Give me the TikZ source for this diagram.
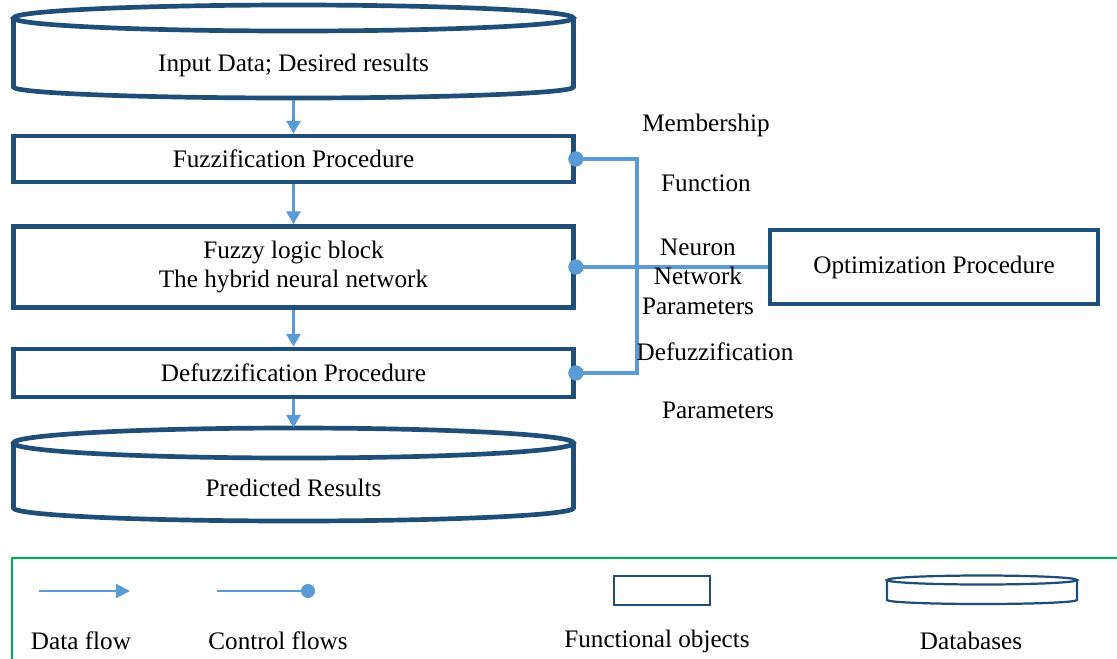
\documentclass[tikz,border=0pt]{standalone}
\usepackage{fontspec}
\setmainfont{Liberation Serif}
\usepackage{tikz}
\usetikzlibrary{calc,arrows.meta}
\definecolor{deepblue}{HTML}{1F4E79}
\definecolor{flowblue}{HTML}{5B9BD5}
\definecolor{keygreen}{HTML}{00B050}
\tikzset{
  txt/.style={font=\fontsize{21.5}{24}\selectfont},
  procbox/.style={txt, draw=deepblue, line width=4pt, minimum width=16.8cm, align=center},
  optbox/.style={procbox, minimum width=9.84cm, minimum height=2.22cm},
  dbnode/.style={txt, minimum width=16.8cm},
  dbline/.style={draw=deepblue, line width=4pt},
  dataflow/.style={draw=flowblue, line width=2.7pt, -{Triangle[length=11pt,width=12pt]}},
  ctrlflow/.style={draw=flowblue, line width=2.7pt},
  lab/.style={txt},
  keyline/.style={draw=flowblue, line width=1.9pt},
  keybox/.style={draw=deepblue, line width=1.9pt, minimum width=2.88cm, minimum height=0.87cm},
  keyframe/.style={draw=keygreen, line width=2.5pt},
}
% cylinder outline around a node: style, node, rx, top offset, top ry, bottom offset, bottom ry
\newcommand{\cylout}[7]{%
  \draw[#1] ($(#2)+(0,#4)$) ellipse [x radius=#3, y radius=#5];
  \draw[#1] ($(#2)+(-#3,#4)$) -- ($(#2)+(-#3,#6)$)
    arc[start angle=180, end angle=0, x radius=#3, y radius=#7] -- ($(#2)+(#3,#4)$);
}

\begin{document}
\begin{tikzpicture}[x=0.03cm, y=-0.03cm]
  \useasboundingbox (0,0) rectangle (1117,658);

  \node[dbnode, minimum height=2.1cm] (indata) at (293.5,65) {Input Data; Desired results};
  \cylout{dbline}{indata}{280}{-47}{13}{22}{11}
  \node[procbox, minimum height=1.38cm] (fuzz) at (293.5,159) {Fuzzification Procedure};
  \node[procbox, minimum height=2.43cm] (logic) at (293.5,267) {Fuzzy logic block\\The hybrid neural network};
  \node[procbox, minimum height=1.44cm] (defuzz) at (293.5,373) {Defuzzification Procedure};
  \node[dbnode, minimum height=3.6cm] (predres) at (293.5,488) {Predicted Results};
  \cylout{dbline}{predres}{280}{-45}{15}{20}{13}

  \node[optbox] (opt) at (934,267) {Optimization Procedure};

  \draw[dataflow] (indata.south) -- (fuzz.north);
  \draw[dataflow] (fuzz.south) -- (logic.north);
  \draw[dataflow] (logic.south) -- (defuzz.north);
  \draw[dataflow] (defuzz.south) -- (predres.north);

  \coordinate (bus) at (637,267);
  \draw[ctrlflow, {Circle[length=13pt]}-{Circle[length=13pt]}, shorten <=-6.5pt, shorten >=-6.5pt]
    (fuzz.east) -| (bus) |- (defuzz.east);
  \draw[ctrlflow, {Circle[length=13pt]}-, shorten <=-6.5pt] (logic.east) -- (opt.west);

  \node[lab] (memb) at (706,125) {Membership};
  \node[lab] (func) at (706,183) {Function};
  \node[lab] (neur) at (698,247) {Neuron};
  \node[lab] (netw) at (698,276) {Network};
  \node[lab] (npar) at (698,306) {Parameters};
  \node[lab] (dfz) at (715,352) {Defuzzification};
  \node[lab] (dpar) at (718,410) {Parameters};

  \draw[keyframe] (12,662) |- (1121,558);

  \coordinate (df1) at (39,591);
  \coordinate (df2) at (130,591);
  \draw[keyline, -{Triangle[length=12pt,width=12pt]}] (df1) -- (df2);
  \coordinate (cf1) at (217,591);
  \coordinate (cf2) at (308,591);
  \draw[keyline, -{Circle[length=12pt]}, shorten >=-6pt] (cf1) -- (cf2);
  \node[keybox] (fobj) at (662,590.5) {};
  \node (keydb) at (982,590) {};
  \cylout{keyline, draw=deepblue}{keydb}{95}{-10}{4.5}{10}{4}

  \node[lab] (dflab) at (81,641) {Data flow};
  \node[lab] (cflab) at (278,641) {Control flows};
  \node[lab] (folab) at (657,641) {Functional objects};
  \node[lab] (dblab) at (971,641) {Databases};
\end{tikzpicture}
\end{document}
